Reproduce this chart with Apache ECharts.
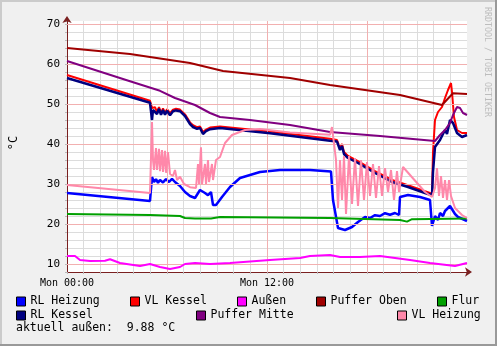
<!DOCTYPE html>
<html><head><meta charset="utf-8">
<script src="https://cdn.jsdelivr.net/npm/echarts@6/dist/echarts.min.js"></script>
<style>html,body{margin:0;padding:0;background:#f0f0f0;}#c{width:497px;height:346px;}</style>
</head><body><div id="c"></div>
<script>
// ---- data: [hour since Mon 00:00, °C] ----
const xTickLabels = {0: 'Mon 00:00', 12: 'Mon 12:00'};
const majorHours = [6, 12, 18];
const majorTemps = [10, 20, 30, 40, 50, 60, 70];
const seriesNames = ['RL Heizung','VL Kessel','Außen','Puffer Oben','Flur','RL Kessel','Puffer Mitte','VL Heizung'];
const seriesColors = ['#0000ff','#ff0000','#ff00ff','#a00000','#00a000','#000080','#800080','#ff88aa'];

const rlHeizung = [[0,27.75],[4.98,25.75],[5.1,31.75],[5.22,30.5],[5.34,31.2],[5.46,30.3],[5.58,31],[5.76,30.4],[5.94,31.2],[6.12,30.5],[6.3,31.3],[6.48,30.5],[6.78,29.5],[7.08,28],[7.38,27],[7.68,26.5],[7.98,28.5],[8.28,27.75],[8.46,27.2],[8.64,28],[8.76,24.75],[8.94,24.75],[9.3,26.75],[9.78,29.25],[10.38,31.5],[11.58,33],[12.78,33.5],[14.58,33.5],[15.84,33.1],[15.96,26],[16.26,19],[16.68,18.5],[17.1,19.25],[17.46,20.5],[17.88,21.75],[18.18,21.5],[18.48,22.2],[18.78,22],[19.08,22.7],[19.38,22.3],[19.68,22.75],[19.92,22.25],[19.98,26.75],[20.46,27.25],[21.18,26.75],[21.78,26],[21.9,19.5],[22.08,22],[22.26,21],[22.38,22.75],[22.56,22],[22.68,23.25],[22.98,24.5],[23.28,22.5],[23.46,21.75],[24,20.75]];
const vlKessel = [[0,57.25],[4.98,50.8],[5.1,49],[5.16,48.9],[5.28,49.2],[5.4,48],[5.52,49.2],[5.64,47.8],[5.76,48.9],[5.88,47.8],[6.0,48.7],[6.18,47.7],[6.36,48.6],[6.54,48.8],[6.78,48.6],[7.08,47.4],[7.38,45.4],[7.56,44.7],[7.8,44.2],[7.98,44.4],[8.16,43],[8.34,43.6],[8.58,44.1],[9.18,44.4],[12.18,43.1],[15.78,41.3],[16.2,41],[16.38,39],[16.5,40],[16.62,38],[16.74,38.5],[16.86,37],[16.98,37],[17.46,35.7],[18.48,33.2],[19.5,31],[20.46,29.7],[21.48,28.2],[21.9,27.6],[21.96,38],[22.08,46],[22.26,48],[22.5,49.25],[22.68,51.5],[22.86,53.5],[23.04,55.25],[23.1,53],[23.22,46.75],[23.4,43.5],[23.7,42.75],[24,42.75]];
const aussen = [[0,12],[0.48,12],[0.78,11],[1.38,10.75],[2.28,10.8],[2.58,11.2],[3.18,10.25],[4.38,9.5],[4.98,10],[5.58,9.25],[6.18,8.75],[6.78,9.25],[7.08,10],[7.68,10.25],[8.58,10],[9.78,10.25],[12.18,11],[13.98,11.5],[14.58,12],[15.78,12.25],[16.38,11.75],[17.58,11.75],[18.78,12],[20.58,11],[21.78,10.25],[23.28,9.5],[24,10.25]];
const pufferOben = [[0,64],[3.78,62.5],[7.38,60.25],[9.36,58.25],[13.38,56.5],[15.78,54.75],[19.98,52.25],[22.5,49.75],[23.16,52.7],[24,52.5]];
const flur = [[0,22.5],[4.98,22.25],[6.78,22],[7.08,21.5],[7.68,21.4],[8.64,21.4],[9.18,21.75],[15.78,21.5],[19.98,21],[20.4,20.6],[20.7,21.2],[24,21.4]];
const rlKessel = [[0,56.5],[4.98,50.3],[5.04,50.3],[5.1,46],[5.16,48.5],[5.28,48.8],[5.4,47.5],[5.52,48.8],[5.64,47.3],[5.76,48.5],[5.88,47.3],[6.0,48.3],[6.18,47.2],[6.36,48.2],[6.54,48.4],[6.78,48.2],[7.08,47],[7.38,45],[7.56,44.25],[7.8,43.8],[7.98,44],[8.16,42.5],[8.34,43.2],[8.58,43.7],[9.18,44],[12.18,42.7],[15.78,40.8],[16.2,40.6],[16.38,38.5],[16.5,39.5],[16.62,37.5],[16.74,38],[16.86,36.5],[16.98,36.5],[17.46,35.25],[18.48,32.75],[19.5,30.5],[20.46,29.25],[21.48,27.75],[21.9,27.2],[21.96,33],[22.08,39.25],[22.38,41],[22.5,40.5],[22.68,43.5],[22.8,42.5],[22.98,46],[23.16,45.25],[23.4,42.75],[23.7,41.75],[24,42.25]];
const pufferMitte = [[0,60.75],[3.78,55.7],[5.58,53.3],[6.48,51.5],[7.68,49.75],[8.58,47.75],[9.18,46.75],[10.98,46],[13.38,44.75],[15.78,43],[18.78,42],[22.08,40.75],[22.38,42.25],[22.68,43.5],[22.98,45.25],[23.16,47.25],[23.4,49.25],[23.58,49],[23.76,47.75],[24,47.25]];
const vlHeizung = [[0,29.75],[4.98,27.75],[5.1,45.5],[5.16,36],[5.22,33.5],[5.34,39],[5.4,33.5],[5.52,38.8],[5.58,33.2],[5.7,38.5],[5.76,33],[5.88,38.3],[5.94,32.8],[6.06,38],[6.18,32.5],[6.36,32],[6.48,33.5],[6.6,31],[6.78,31.8],[7.02,30],[7.38,29.2],[7.74,29],[7.86,35],[7.92,30],[8.04,39.2],[8.1,30],[8.28,35],[8.34,30],[8.46,36],[8.52,30.5],[8.7,35],[8.76,31],[8.94,36],[9.18,36.75],[9.48,40.25],[9.9,42.25],[10.68,43.5],[11.58,43.75],[13.38,42.9],[15.78,42.3],[15.9,44.25],[16.02,44.25],[16.14,36],[16.26,24],[16.38,36],[16.5,26],[16.62,37],[16.74,22.5],[16.92,37],[17.1,25],[17.28,36.5],[17.46,24.5],[17.64,36],[17.82,26],[18.0,35.5],[18.18,27],[18.36,35],[18.54,26.5],[18.72,34.5],[18.9,27],[19.08,34],[19.26,28],[19.44,33.5],[19.62,26],[19.8,33.2],[19.92,28],[20.16,34.25],[21.48,28],[21.9,26.75],[22.08,29],[22.2,34],[22.32,27],[22.44,32],[22.56,26.5],[22.68,31],[22.8,26],[22.92,31],[23.04,27],[23.28,24],[23.7,22.25],[24,21.5]];
const seriesData = [rlHeizung, vlKessel, aussen, pufferOben, flur, rlKessel, pufferMitte, vlHeizung];
const currentLabel = 'aktuell außen:  9.88 °C';

// ---- chart ----
const MONO = 'DejaVu Sans Mono';
const GRAY = '#dcdcdc', RED = '#f2b0b0', AXIS = '#7a2020';
const lineWidths = [2.5, 2, 2, 2, 2, 2.5, 2, 2];
const chart = echarts.init(document.getElementById('c'), null, {renderer: 'canvas'});

const legendPos = [[16,295.5],[130,295.5],[237,295.5],[316,295.5],[437,295.5],[16,309.5],[196,309.5],[397,309.5]];
const legends = seriesNames.map((n, i) => ({
  data: [n], left: legendPos[i][0], top: legendPos[i][1], padding: 0,
  icon: 'rect', itemWidth: 9, itemHeight: 9, selectedMode: false,
  itemStyle: {borderColor: '#000', borderWidth: 1},
  textStyle: {fontFamily: MONO, fontSize: 11.5, color: '#000', lineHeight: 10}
}));

const gridSeries = {
  name: '_grid', type: 'line', data: [], z: 1, silent: true,
  markLine: {
    silent: true, symbol: ['none', 'none'], animation: false,
    label: {show: false},
    lineStyle: {color: RED, type: 'solid', width: 1},
    emphasis: {disabled: true},
    data: majorTemps.map(v => ({yAxis: v})).concat(majorHours.map(h => ({xAxis: h})))
  }
};

chart.setOption({
  animation: false,
  backgroundColor: '#f0f0f0',
  grid: {left: 67, top: 21, width: 400, height: 251, backgroundColor: '#fff', show: true, borderWidth: 0},
  xAxis: {
    type: 'value', min: 0, max: 24, interval: 1,
    axisLine: {show: true, lineStyle: {color: AXIS, width: 1}, symbol: ['none', 'arrow'], symbolSize: [7, 7], symbolOffset: [0, 5]},
    axisTick: {show: true, length: 2, lineStyle: {color: '#bbbbbb'}},
    axisLabel: {margin: 6, fontFamily: MONO, fontSize: 10, color: '#000', formatter: v => xTickLabels[v] || ''},
    splitLine: {show: true, showMaxLine: false, lineStyle: {color: GRAY, width: 1}}
  },
  yAxis: {
    type: 'value', min: 8, max: 70.75, interval: 2,
    axisLine: {show: true, lineStyle: {color: AXIS, width: 1}, symbol: ['none', 'arrow'], symbolSize: [7, 7], symbolOffset: [0, 5]},
    axisTick: {show: true, length: 2, lineStyle: {color: '#bbbbbb'}},
    axisLabel: {margin: 7, fontFamily: MONO, fontSize: 11, color: '#000', formatter: v => (v % 10 === 0 ? String(v) : '')},
    splitLine: {show: true, showMaxLine: false, lineStyle: {color: GRAY, width: 1}}
  },
  legend: legends,
  series: [gridSeries].concat(seriesNames.map((n, i) => ({
    name: n, type: 'line', data: seriesData[i], showSymbol: false, symbol: 'none',
    color: seriesColors[i], lineStyle: {width: lineWidths[i], color: seriesColors[i]}, clip: true, z: 3 + i
  }))),
  graphic: [
    {type: 'rect', shape: {x: 0, y: 0, width: 497, height: 2}, style: {fill: '#cbcbcb'}, silent: true},
    {type: 'rect', shape: {x: 0, y: 0, width: 2, height: 346}, style: {fill: '#cbcbcb'}, silent: true},
    {type: 'rect', shape: {x: 0, y: 344, width: 497, height: 2}, style: {fill: '#999999'}, silent: true},
    {type: 'rect', shape: {x: 495, y: 0, width: 2, height: 346}, style: {fill: '#999999'}, silent: true},
    {type: 'text', x: 487, y: 7, rotation: -Math.PI / 2,
      style: {text: 'RRDTOOL / TOBI OETIKER', fill: '#bdbdbd', font: '8.3px "DejaVu Sans Mono"', textAlign: 'left', textVerticalAlign: 'middle'}},
    {type: 'text', x: 14, y: 143, rotation: Math.PI / 2,
      style: {text: '°C', fill: '#000', font: '12px "DejaVu Sans Mono"', textAlign: 'center', textVerticalAlign: 'middle'}},
    {type: 'text', x: 16, y: 328,
      style: {text: currentLabel, fill: '#000', font: '11.5px "DejaVu Sans Mono"', textAlign: 'left', textVerticalAlign: 'middle'}}
  ]
});
</script></body></html>
